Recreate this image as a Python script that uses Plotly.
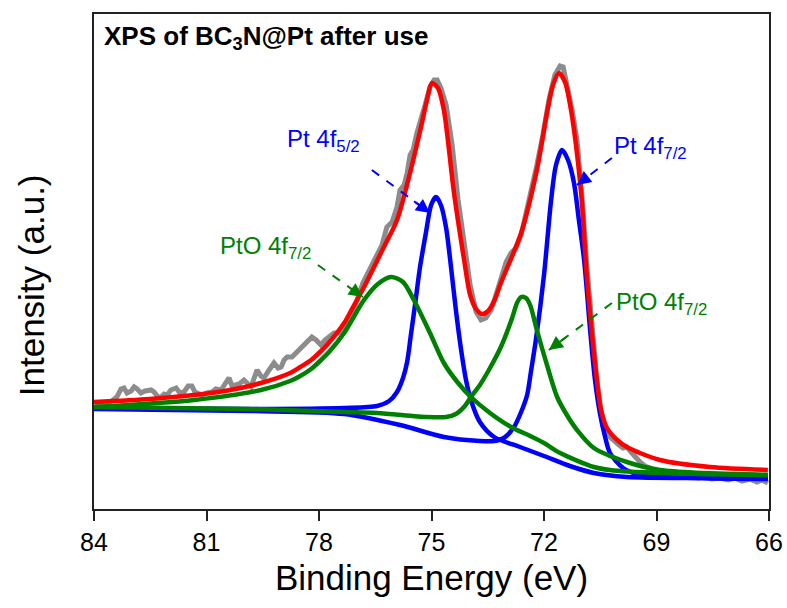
import plotly.graph_objects as go

# ---------------- data (binding energy in eV, intensity in a.u.) ----------------
gray_E = [83.97, 83.71, 83.52, 83.39, 83.28, 83.20, 83.12, 83.01, 82.93, 82.85, 82.75, 82.64,
          82.48, 82.40, 82.29, 82.21, 82.13, 82.05, 81.95, 81.81, 81.71, 81.60, 81.49, 81.39,
          81.31, 81.12, 80.99, 80.85, 80.75, 80.61, 80.51, 80.40, 80.32, 80.13, 80.00, 79.89,
          79.81, 79.73, 79.65, 79.55, 79.47, 79.33, 79.20, 79.09, 79.01, 78.93, 78.85, 78.72,
          78.59, 78.45, 78.32, 78.19, 78.08, 77.95, 77.84, 77.73, 77.60, 77.44, 77.33, 77.17,
          77.01, 76.83, 76.64, 76.45, 76.32, 76.19, 76.05, 75.92, 75.84, 75.73, 75.65, 75.57,
          75.49, 75.39, 75.28, 75.17, 75.04, 74.93, 74.85, 74.75, 74.61, 74.45, 74.29, 74.13,
          73.97, 73.81, 73.68, 73.55, 73.41, 73.28, 73.15, 73.01, 72.88, 72.75, 72.61, 72.45,
          72.32, 72.19, 72.03, 71.87, 71.71, 71.57, 71.49, 71.39, 71.25, 71.12, 70.99, 70.85,
          70.72, 70.59, 70.48, 70.37, 70.24, 70.11, 70.00, 69.89, 69.79, 69.68, 69.57, 69.44,
          69.31, 69.17, 69.04, 68.91, 68.69, 68.51, 68.29, 68.11, 67.89, 67.71, 67.52, 67.31,
          67.09, 66.91, 66.72, 66.51, 66.32, 66.19, 66.03]
gray_I = [105, 106, 108, 112, 120, 121, 116, 118, 122, 120, 116, 118,
          119, 117, 112, 112, 115, 114, 119, 121, 116, 117, 123, 123,
          117, 114, 116, 117, 120, 119, 125, 131, 123, 125, 129, 124,
          122, 131, 139, 133, 131, 139, 146, 141, 142, 149, 152, 152,
          157, 161, 167, 172, 169, 164, 169, 172, 176, 176, 177, 192,
          206, 226, 241, 254, 264, 282, 287, 302, 319, 324, 336, 354,
          359, 376, 389, 404, 422, 429, 429, 421, 404, 364, 309, 264,
          224, 197, 189, 191, 199, 214, 229, 247, 256, 261, 274, 299,
          324, 344, 374, 409, 434, 443, 442, 424, 399, 369, 314, 239,
          179, 129, 99, 81, 72, 67, 64, 61, 62, 57, 52, 47,
          43, 41, 37, 36, 34, 35, 32, 33, 31, 32, 30, 31,
          29, 31, 28, 30, 27, 29, 26]

env_E = [84.00, 82.51, 81.33, 80.37, 79.55, 78.77, 78.50, 78.21, 78.00, 77.79, 77.33, 77.15,
         76.80, 76.27, 75.92, 75.60, 75.28, 75.12, 74.99, 74.83, 74.67, 74.40, 74.13, 73.97,
         73.81, 73.65, 73.49, 73.33, 73.15, 72.61, 72.19, 71.92, 71.76, 71.60, 71.44, 71.28,
         71.01, 70.85, 70.59, 70.48, 70.32, 70.05, 69.79, 68.91, 67.57, 66.03]
env_I = [107, 110, 114, 119, 126, 136, 142, 149, 156, 164, 186, 198,
         222, 262, 289, 332, 382, 409, 426, 421, 399, 316, 249, 214,
         200, 195, 198, 208, 226, 276, 339, 396, 424, 436, 427, 399,
         316, 229, 129, 99, 81, 69, 62, 49, 42, 39]

pt52_E = [84.00, 79.84, 77.33, 76.45, 76.13, 75.92, 75.76, 75.65, 75.55, 75.44, 75.31, 75.15,
          75.01, 74.88, 74.75, 74.61, 74.48, 74.35, 74.21, 74.08, 73.95, 73.71, 73.33, 72.64,
          72.00, 71.31, 70.67, 69.79, 67.84, 66.03]
pt52_I = [101, 100, 101, 103, 108, 117, 131, 147, 174, 204, 241, 276,
          304, 312, 304, 281, 242, 199, 159, 129, 109, 87, 72, 62,
          53, 43, 36, 32, 31, 31]

pt72_E = [84.00, 79.84, 77.33, 75.84, 74.67, 73.71, 73.33, 73.07, 72.80, 72.61, 72.45, 72.35,
          72.21, 72.00, 71.81, 71.68, 71.52, 71.36, 71.20, 71.07, 70.93, 70.77, 70.64, 70.51,
          70.37, 70.24, 69.89, 69.44, 67.84, 66.03]
pt72_I = [100, 98, 95, 84, 72, 68, 68, 71, 82, 97, 114, 137,
          171, 234, 309, 344, 359, 349, 326, 289, 249, 179, 129, 96,
          72, 56, 41, 34, 31, 30]

pto1_E = [84.00, 81.33, 79.55, 78.77, 78.50, 78.21, 78.00, 77.71, 77.33, 76.80, 76.43, 76.08,
          75.76, 75.47, 75.04, 74.67, 74.29, 73.95, 73.44, 72.88, 72.37, 72.00, 71.57, 70.67,
          70.24, 68.91, 66.03]
pto1_I = [102, 109, 119, 128, 133, 140, 147, 158, 176, 209, 225, 232,
          227, 209, 176, 146, 126, 112, 96, 82, 73, 66, 56, 42,
          39, 36, 34]

pto2_E = [84.00, 79.84, 77.33, 76.45, 75.12, 74.61, 74.35, 74.11, 73.95, 73.71, 73.44, 73.15,
          72.85, 72.72, 72.61, 72.48, 72.37, 72.19, 71.92, 71.65, 71.39, 71.12, 70.67, 69.79,
          68.91, 66.03]
pto2_I = [102, 100, 97, 96, 92, 92, 95, 103, 112, 124, 141, 162,
          191, 206, 212, 211, 204, 179, 144, 112, 94, 79, 61, 47,
          39, 34]

x_ticks = [84, 81, 78, 75, 72, 69, 66]

# annotation labels: (text, E, I, colour)
labels = [
    ("Pt 4f<sub>5/2</sub>", 77.87, 369, "#0000ff"),
    ("PtO 4f<sub>7/2</sub>", 79.44, 262, "#008000"),
    ("Pt 4f<sub>7/2</sub>", 69.15, 362, "#0000ff"),
    ("PtO 4f<sub>7/2</sub>", 68.88, 206, "#008000"),
]
# arrows: (tail E, tail I, head E, head I, colour)
arrows = [
    (76.59, 339, 75.04, 296, "#0000ff"),
    (78.03, 244, 76.83, 212, "#008000"),
    (70.19, 351, 71.12, 324, "#0000ff"),
    (70.19, 206, 71.87, 159, "#008000"),
]

RED = "#ff0000"
BLUE = "#0000ff"
GREEN = "#008000"
GRAY = "#8c8c8c"
FONT = "Liberation Sans, Arial"

fig = go.Figure()
fig.add_trace(go.Scatter(x=gray_E, y=gray_I, mode="lines",
                         line=dict(color=GRAY, width=5), showlegend=False))
for E, I in [(pt52_E, pt52_I), (pt72_E, pt72_I)]:
    fig.add_trace(go.Scatter(x=E, y=I, mode="lines",
                             line=dict(color=BLUE, width=4.5, shape="spline", smoothing=0.8),
                             showlegend=False))
for E, I in [(pto1_E, pto1_I), (pto2_E, pto2_I)]:
    fig.add_trace(go.Scatter(x=E, y=I, mode="lines",
                             line=dict(color=GREEN, width=4.5, shape="spline", smoothing=0.8),
                             showlegend=False))
fig.add_trace(go.Scatter(x=env_E, y=env_I, mode="lines",
                         line=dict(color=RED, width=4.5, shape="spline", smoothing=0.8),
                         showlegend=False))

# dashed arrow shafts with arrowheads
for tE, tI, hE, hI, col in arrows:
    fig.add_trace(go.Scatter(x=[tE, hE], y=[tI, hI], mode="lines",
                             line=dict(color=col, width=2, dash="dash"),
                             showlegend=False, hoverinfo="skip"))
    fig.add_annotation(x=hE, y=hI, ax=hE + 0.3 * (tE - hE), ay=hI + 0.3 * (tI - hI),
                       axref="x", ayref="y", xref="x", yref="y", text="",
                       showarrow=True, arrowhead=2, arrowsize=1.4, arrowwidth=2,
                       arrowcolor=col)

for txt, E, I, col in labels:
    fig.add_annotation(x=E, y=I, xref="x", yref="y", text=txt, showarrow=False,
                       font=dict(family=FONT, size=24, color=col),
                       xanchor="center", yanchor="middle")

fig.add_annotation(x=0.012, y=0.953, xref="paper", yref="paper",
                   text="<b>XPS of BC<sub>3</sub>N@Pt after use</b>", showarrow=False,
                   font=dict(family=FONT, size=26, color="black"),
                   xanchor="left", yanchor="middle")

fig.add_annotation(x=-0.093, y=0.4525, xref="paper", yref="paper",
                   text="Intensity (a.u.)", showarrow=False, textangle=-90,
                   font=dict(family=FONT, size=35, color="black"),
                   xanchor="center", yanchor="middle")

fig.update_layout(
    width=787, height=608,
    margin=dict(l=94, r=18, t=14, b=99, autoexpand=False),
    paper_bgcolor="white", plot_bgcolor="white",
    font=dict(family=FONT, color="black"),
    xaxis=dict(range=[84, 66], tickvals=x_ticks, ticktext=[str(t) for t in x_ticks],
               ticks="outside", ticklen=10, tickwidth=1.5, tickcolor="#222",
               showline=True, linecolor="#222", linewidth=2, mirror=True,
               showgrid=False, zeroline=False, automargin=False,
               tickfont=dict(size=25, family=FONT),
               title=dict(text="Binding Energy (eV)",
                          font=dict(size=35, family=FONT), standoff=10)),
    yaxis=dict(range=[0, 495], showticklabels=False, ticks="",
               showline=True, linecolor="#222", linewidth=2, mirror=True,
               showgrid=False, zeroline=False, automargin=False),
)

fig.write_html("out.html", config={"displayModeBar": False},
               post_script="document.body.style.margin='0px';document.body.style.overflow='hidden';")
